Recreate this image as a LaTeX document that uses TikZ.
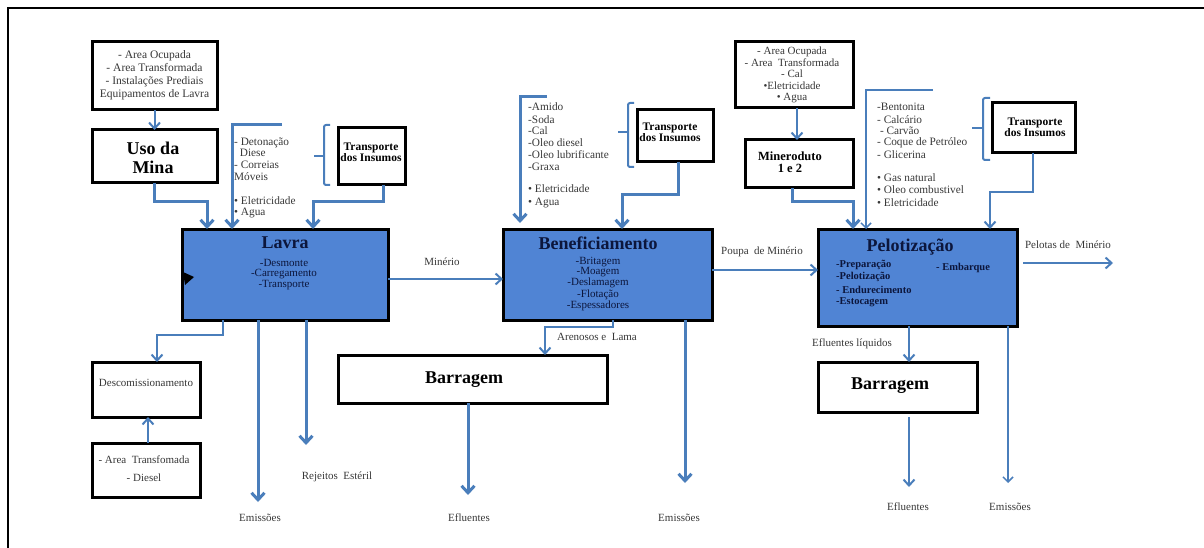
\documentclass[tikz,border=0pt]{standalone}
\usepackage{fontspec}
\setmainfont{Liberation Serif}
\usetikzlibrary{arrows.meta}
\definecolor{ablue}{RGB}{74,126,187}
\definecolor{bfill}{RGB}{80,132,212}
\definecolor{navy}{RGB}{12,22,60}
\definecolor{tgray}{RGB}{55,55,55}
\begin{document}
\begin{tikzpicture}[x=1pt,y=-1pt,
  box/.style={draw=black,line width=3pt,fill=white,inner sep=0pt,outer sep=0pt},
  bbox/.style={box,fill=bfill},
  con/.style={draw=ablue,line width=2pt,-{Straight Barb[length=6pt,width=11pt,line width=2pt]}},
  thk/.style={line width=3pt,-{Straight Barb[length=7pt,width=13pt,line width=3pt]}},
  thn/.style={line width=1.5pt,-{Straight Barb[length=5pt,width=10pt,line width=1.5pt]}},
  brk/.style={draw=ablue,line width=2pt},
  lst/.style={anchor=west,font=\fontsize{11.3}{12}\selectfont,text=tgray,inner sep=0pt},
  lbl/.style={font=\fontsize{11}{12}\selectfont,text=tgray,inner sep=0pt},
  ttl/.style={font=\bfseries\fontsize{18}{19}\selectfont,text=navy,inner sep=0pt,align=center},
  itm/.style={font=\fontsize{11}{11}\selectfont,text=navy,inner sep=0pt},
  bitm/.style={anchor=west,font=\bfseries\fontsize{10.5}{12}\selectfont,text=navy,inner sep=0pt},
  btxt/.style={font=\bfseries\fontsize{11.5}{11}\selectfont,text=black,inner sep=0pt,align=center},
  stxt/.style={font=\fontsize{11.5}{13}\selectfont,text=tgray,inner sep=0pt,align=center}
]
\useasboundingbox (0,0) rectangle (1204,548);
% frame
\draw[line width=2pt,black] (8,548) -- (8,8) -- (1204,8);

% ---------- boxes ----------
\node[box,minimum width=125pt,minimum height=68pt] (area1) at (154.5,76) {};
\node[stxt] (area1t) at (154.5,75) {- Area Ocupada\\- Area Transformada\\- Instalações Prediais\\Equipamentos de Lavra};
\node[box,minimum width=125pt,minimum height=53pt] (uso) at (154.5,156.5) {};
\node[ttl,text=black] (usot) at (153,157.5) {Uso da\\Mina};
\node[box,minimum width=67pt,minimum height=57pt] (trans1) at (371.5,156.5) {};
\node[btxt] (trans1t) at (371,152.5) {Transporte\\dos Insumos};
\node[bbox,minimum width=206pt,minimum height=91pt] (lavra) at (285,274.5) {};
\node[bbox,minimum width=209pt,minimum height=91pt] (benef) at (607.5,274.5) {};
\node[box,minimum width=76pt,minimum height=52pt] (trans2) at (675,136) {};
\node[btxt] (trans2t) at (670,132) {Transporte\\dos Insumos};
\node[box,minimum width=118pt,minimum height=66pt] (area3) at (794,75) {};
\node[stxt,font=\fontsize{11}{11.5}\selectfont] (area3t) at (792,75) {- Area Ocupada\\- Area\enspace Transformada\\- Cal\\•Eletricidade\\• Agua};
\node[box,minimum width=108pt,minimum height=48pt] (minero) at (799,164) {};
\node[btxt,font=\bfseries\fontsize{12.5}{11.5}\selectfont] (minerot) at (790,162) {Mineroduto\\1 e 2};
\node[box,minimum width=83pt,minimum height=50pt] (trans3) at (1033.5,128) {};
\node[btxt] (trans3t) at (1035,127.5) {Transporte\\dos Insumos};
\node[bbox,minimum width=199pt,minimum height=97pt] (pelot) at (917.5,277.5) {};
\node[box,minimum width=108pt,minimum height=55pt] (desc) at (146,389.5) {};
\node[lbl] (desct) at (146,383) {Descomissionamento};
\node[box,minimum width=108pt,minimum height=54pt] (lowbox) at (146,470) {};
\node[stxt,font=\fontsize{11}{18}\selectfont] (lowboxt) at (144,469) {- Area\enspace Transfomada\\- Diesel};
\node[box,minimum width=269pt,minimum height=48pt] (barr1) at (472.5,379) {};
\node[ttl,text=black] (barr1t) at (464,380) {Barragem};
\node[box,minimum width=159pt,minimum height=50pt] (barr2) at (897.5,387) {};
\node[ttl,text=black] (barr2t) at (890,386) {Barragem};

% artefact on Lavra
\fill[black] (183,272) -- (194,277) -- (185,285) -- cycle;

% ---------- texts in blue boxes ----------
\node[ttl] (lavrat) at (285,243) {Lavra};
\foreach \t/\y [count=\i] in {-Desmonte/263,-Carregamento/274,-Transporte/285}
  \node[itm] (lv\i) at (284,\y) {\t};
\node[ttl] (beneft) at (598,243) {Beneficiamento};
\foreach \t/\y [count=\i] in {-Britagem/262,-Moagem/272,-Deslamagem/283,-Flotação/295,-Espessadores/306}
  \node[itm] (bn\i) at (598,\y) {\t};
\node[ttl] (pelott) at (910,247) {Pelotização};
\foreach \t/\y [count=\i] in {-Preparação/265,-Pelotização/277,- Endurecimento/290,-Estocagem/302}
  \node[bitm] (pl\i) at (836,\y) {\t};
\node[bitm] (embq) at (936,268) {- Embarque};

% ---------- input lists ----------
\foreach \t/\y [count=\i] in {- Detonação/143,\ \ Diese/153,- Correias/165,Móveis/177,• Eletricidade/201,• Agua/213}
  \node[lst] (la\i) at (234,\y) {\t};
\foreach \t/\y [count=\i] in {-Amido/107,-Soda/120,-Cal/131,-Oleo diesel/143,-Oleo lubrificante/155,-Graxa/167,• Eletricidade/189,• Agua/203}
  \node[lst] (ba\i) at (528,\y) {\t};
\foreach \t/\y [count=\i] in {-Bentonita/107,- Calcário/120,\ - Carvão/131,- Coque de Petróleo/143,- Glicerina/155,• Gas natural/178,• Oleo combustivel/190,• Eletricidade/203}
  \node[lst] (pa\i) at (877,\y) {\t};

% ---------- labels ----------
\node[lbl] (minL) at (442,262) {Minério};
\node[lbl] (poupaL) at (762,252) {Poupa\enspace de Minério};
\node[lbl] (pelotasL) at (1068,245) {Pelotas de\enspace Minério};
\node[lbl] (arenL) at (597,337) {Arenosos e\enspace Lama};
\node[lbl] (eflqL) at (852,344) {Efluentes líquidos};
\node[lbl] (em1L) at (260,518) {Emissões};
\node[lbl] (rejL) at (337,477) {Rejeitos\enspace Estéril};
\node[lbl] (ef1L) at (469,518) {Efluentes};
\node[lbl] (em2L) at (679,518) {Emissões};
\node[lbl] (ef2L) at (908,507) {Efluentes};
\node[lbl] (em3L) at (1010,507) {Emissões};

% ---------- coordinates ----------
\coordinate (k1) at (207,202);
\coordinate (d1) at (282,125);
\coordinate (d2) at (232,125);
\coordinate (t1) at (383,202);
\coordinate (k2) at (313,202);
\coordinate (k3) at (223,335);
\coordinate (k4) at (157,335);
\coordinate (k5) at (148,0);
\coordinate (e1) at (258,502);
\coordinate (e2) at (306,445);
\coordinate (m1) at (0,279);
\coordinate (d3) at (547,97);
\coordinate (d4) at (520,97);
\coordinate (d5) at (520,223);
\coordinate (k6) at (678,195);
\coordinate (k7) at (622,195);
\coordinate (k8) at (613,327);
\coordinate (k9) at (545,327);
\coordinate (e3) at (468,495);
\coordinate (e4) at (685,483);
\coordinate (m2) at (0,270);
\coordinate (k10) at (797,0);
\coordinate (k11) at (792,202);
\coordinate (k12) at (853,202);
\coordinate (d6) at (933,90);
\coordinate (d7) at (866,90);
\coordinate (k13) at (1033,192);
\coordinate (k14) at (990,192);
\coordinate (k15) at (909,0);
\coordinate (e5) at (909,487);
\coordinate (e6) at (1008,483);
\coordinate (p1) at (1023,263);
\coordinate (p2) at (1113,263);

% ---------- connectors ----------
\draw[con] (area1.south) -- (uso.north);
\draw[con,thk] (uso.south) |- (k1) -- (k1 |- lavra.north);
\draw[con,thk] (d1) -- (d2) -- (d2 |- lavra.north);
\draw[con,thk] (t1 |- trans1.south) -- (t1) -- (k2) -- (k2 |- lavra.north);
\draw[con] (k3 |- lavra.south) -- (k3) -- (k4) -- (k4 |- desc.north);
\draw[con] (lowbox.north -| k5) -- (desc.south -| k5);
\draw[con,thk] (e1 |- lavra.south) -- (e1);
\draw[con,thk] (e2 |- lavra.south) -- (e2);
\draw[con] (lavra.east |- m1) -- (benef.west |- m1);
\draw[con,thk] (d3) -- (d4) -- (d5);
\draw[con,thk] (k6 |- trans2.south) -- (k6) -- (k7) -- (k7 |- benef.north);
\draw[con] (k8 |- benef.south) -- (k8) -- (k9) -- (k9 |- barr1.north);
\draw[con,thk] (e3 |- barr1.south) -- (e3);
\draw[con,thk] (e4 |- benef.south) -- (e4);
\draw[con,line width=2.5pt] (benef.east |- m2) -- (pelot.west |- m2);
\draw[con,line width=2.5pt] (area3.south -| k10) -- (minero.north -| k10);
\draw[con,thk] (k11 |- minero.south) -- (k11) -- (k12) -- (k12 |- pelot.north);
\draw[con,thn] (d6) -- (d7) -- (d7 |- pelot.north);
\draw[con] (k13 |- trans3.south) -- (k13) -- (k14) -- (k14 |- pelot.north);
\draw[con] (pelot.south -| k15) -- (barr2.north -| k15);
\draw[con,shorten <=5pt] (barr2.south -| e5) -- (e5);
\draw[con,thn] (e6 |- pelot.south) -- (e6);
\draw[con,line width=2.5pt] (p1) -- (p2);

% ---------- curly brackets ----------
\draw[brk,rounded corners=2pt] (330,125) -- (324,125) -- (324,185) -- (330,185);
\draw[brk] (324,156) -- (314,156);
\draw[brk,rounded corners=2pt] (634,103) -- (628,103) -- (628,167) -- (634,167);
\draw[brk] (628,132) -- (618,132);
\draw[brk,rounded corners=2pt] (990,98) -- (983,98) -- (983,160) -- (990,160);
\draw[brk] (983,128) -- (972,128);
\end{tikzpicture}
\end{document}
